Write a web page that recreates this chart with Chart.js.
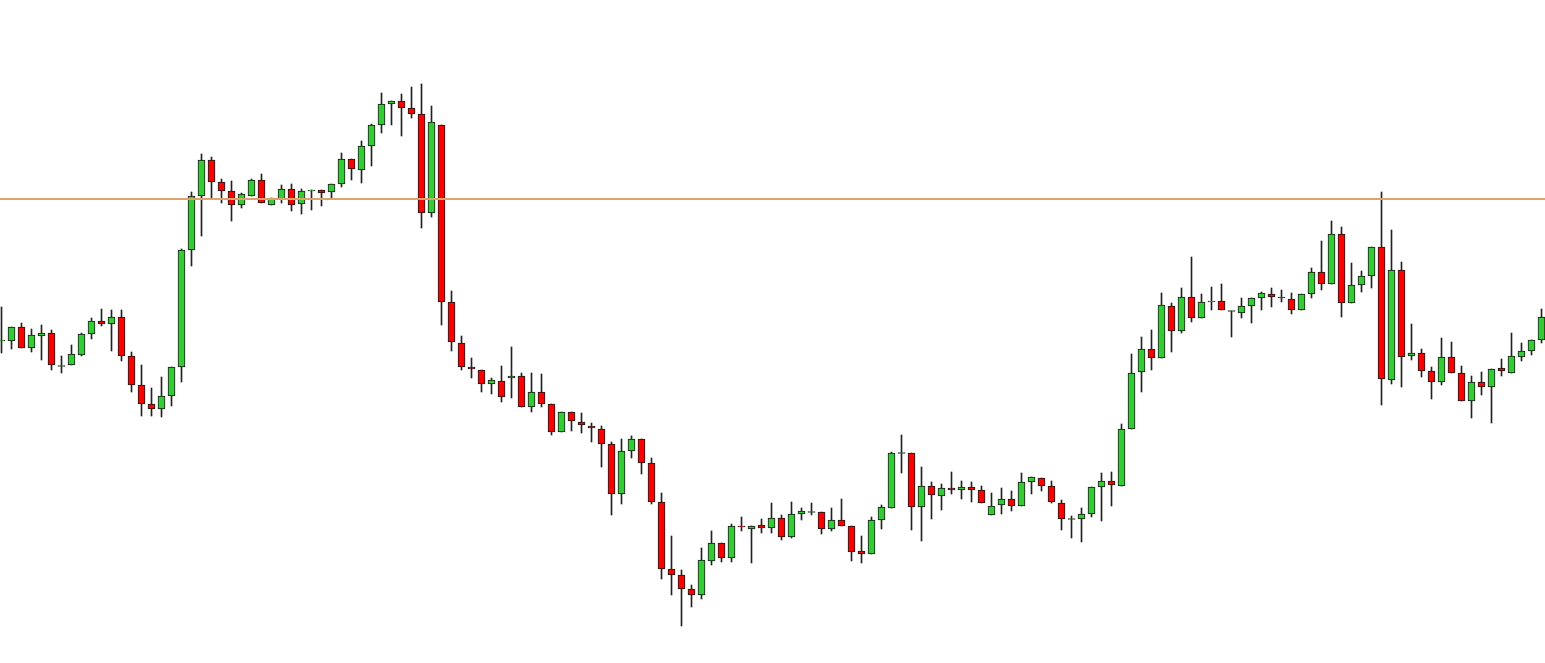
<!DOCTYPE html>
<html>
<head>
<meta charset="utf-8">
<script src="https://cdn.jsdelivr.net/npm/chart.js@4.4.1/dist/chart.umd.min.js"></script>
<style>
  html, body { margin:0; padding:0; background:#fff; }
  #wrap { width:1545px; height:663px; position:relative; }
</style>
</head>
<body>
<div id="wrap"><canvas id="candleChart"></canvas></div>
<script>
// price levels, one entry per candle (left to right)
const openP = [659,659,673,652,664,667,634,635,645,666,679,676,683,644,615,596,591,604,633,750,
  804,840,818,809,795,804,820,795,801,811,796,809,810,808,816,841,830,854,875,896,
  899,892,886,787,875,698,657,633,630,616,619,622,624,593,608,596,568,588,578,574,
  571,556,506,549,561,537,498,431,425,411,405,439,457,442,474,471,475,472,482,463,
  486,488,488,471,480,474,449,446,480,492,547,547,493,514,504,512,510,513,510,485,
  495,501,494,518,522,514,497,481,481,486,513,519,514,571,628,651,642,694,669,703,
  682,698,699,689,687,694,702,706,703,701,690,706,728,716,766,697,715,724,753,620,
  730,644,647,629,618,643,627,599,618,613,632,627,643,649,660];
const highP = [693,673,677,671,675,670,644,655,667,682,691,690,690,648,635,612,623,633,751,808,
  846,843,821,819,807,821,826,802,815,816,811,810,810,816,847,841,859,876,907,899,
  906,913,916,894,875,709,664,642,630,622,634,653,627,627,626,596,588,588,587,577,
  574,558,561,564,561,542,507,464,430,415,452,469,457,476,483,474,481,497,485,498,
  492,497,488,492,501,474,464,483,495,548,565,547,533,518,516,528,519,518,514,507,
  512,509,527,523,522,519,500,484,492,513,527,528,576,646,663,670,707,697,712,743,
  706,713,716,689,702,702,708,712,710,707,706,732,759,779,773,737,729,753,808,770,
  738,676,651,633,662,658,634,624,628,631,641,667,657,660,691];
const lowP = [647,651,652,648,640,630,627,635,644,661,674,649,639,608,584,584,583,594,618,734,
  764,801,797,779,792,804,797,795,797,789,786,790,794,802,813,820,817,834,867,875,
  864,882,772,783,675,649,630,622,608,606,598,602,593,588,593,565,568,569,567,558,
  533,485,496,542,526,496,421,405,374,393,401,435,438,438,469,437,467,467,460,462,
  480,485,466,469,474,439,437,446,471,492,527,470,459,481,490,506,501,498,497,485,
  486,489,494,506,509,497,470,462,458,483,479,494,514,571,608,630,642,648,667,678,
  682,690,690,663,682,677,690,693,698,686,690,702,710,716,683,697,708,712,595,616,
  613,640,623,601,615,627,599,582,605,577,624,627,639,645,657];
const closeP = [660,673,652,665,667,635,634,646,666,679,676,683,644,615,596,591,604,633,750,804,
  840,818,809,795,806,820,797,802,811,795,809,810,807,816,841,831,854,875,896,899,
  892,886,787,878,698,658,633,631,616,620,603,624,593,608,596,568,588,579,575,572,
  556,506,549,561,537,498,431,425,411,405,440,457,442,474,473,474,472,482,463,486,
  489,488,471,480,474,448,446,480,493,547,547,493,514,505,512,510,513,510,497,494,
  501,494,518,523,514,498,481,481,486,513,519,515,571,627,651,642,695,669,703,682,
  698,699,690,689,694,702,707,703,702,690,706,728,716,766,697,715,724,753,621,730,
  643,647,629,618,643,627,599,618,613,631,629,644,649,660,683];
const levelPrice = 801;

const GREEN = '#32cd32', RED = '#ff0000';
const idx = openP.map((_, i) => i);

const wicks = idx.map(i => ({ x: i, y: [lowP[i], highP[i]] }));
const bodies = idx.map(i => {
  const o = openP[i], c = closeP[i];
  // doji: give the body a hairline so it still shows
  return { x: i, y: o === c ? [o - 0.5, o + 0.5] : [o, c] };
});
const bodyColors = idx.map(i => closeP[i] >= openP[i] ? GREEN : RED);

new Chart(document.getElementById('candleChart'), {
  type: 'bar',
  data: {
    datasets: [
      {
        type: 'line',
        data: [{ x: -0.15, y: levelPrice }, { x: 154.35, y: levelPrice }],
        borderColor: '#dea36b', borderWidth: 2, pointRadius: 0, order: 0
      },
      {
        data: bodies, backgroundColor: bodyColors, borderColor: '#1a1a1a',
        borderWidth: 1, borderSkipped: false, barThickness: 7, grouped: false, order: 1
      },
      {
        data: wicks, backgroundColor: '#222', borderWidth: 0,
        barThickness: 1, grouped: false, order: 2
      }
    ]
  },
  options: {
    responsive: true, maintainAspectRatio: false, animation: false,
    layout: { padding: 0 },
    plugins: { legend: { display: false }, tooltip: { enabled: false } },
    scales: {
      x: { type: 'linear', min: -0.15, max: 154.35, offset: false, display: false },
      y: { min: 337, max: 1000, display: false }
    }
  }
});
</script>
</body>
</html>
